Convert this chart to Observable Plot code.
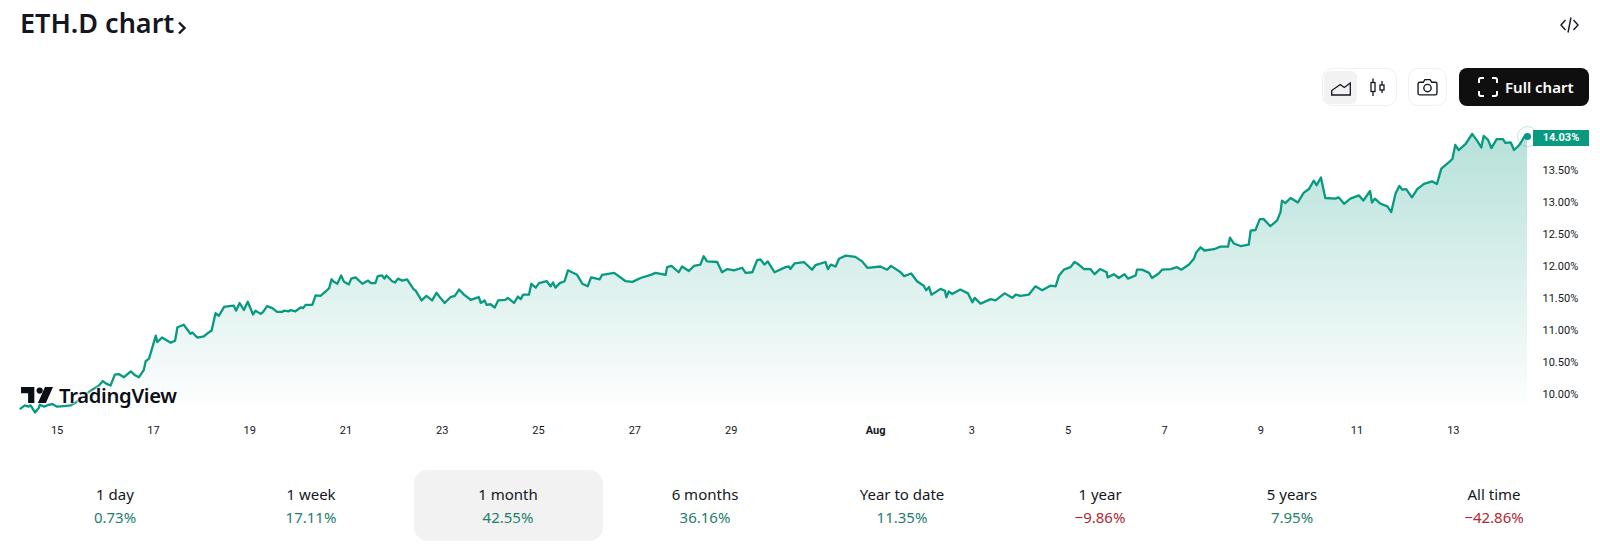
<!DOCTYPE html>
<html><head><meta charset="utf-8">
<script src="https://cdn.jsdelivr.net/npm/d3@7"></script>
<script src="https://cdn.jsdelivr.net/npm/@observablehq/plot@0.6"></script>
<style>
html,body{margin:0;padding:0;background:#fff;overflow:hidden}
body{width:1600px;height:545px;position:relative;font-family:"Noto Sans",sans-serif;color:#131722}
#chart{position:absolute;left:0;top:0}
.abs{position:absolute}
.title{left:20px;top:5px;font-size:27px;font-weight:600;line-height:36px;white-space:nowrap}
.box{border:1px solid #f0f0f0;border-radius:10px;box-sizing:border-box;background:#fff}
.full{left:1459px;top:68px;width:130px;height:38px;background:#0f0f0f;border-radius:8px;color:#fff;font-size:15px;font-weight:600;line-height:38px;padding-left:46px;box-sizing:border-box}
.badge{left:1533px;top:130px;width:56px;height:16px;background:#089981;color:#fff;font:bold 11px Roboto,sans-serif;line-height:16px;text-align:center}
.logo{left:21px;top:382px;height:26px;font-size:20.2px;font-weight:600;line-height:26px;color:#0b0e14;letter-spacing:-.3px;text-shadow:0 0 3px #fff,0 0 3px #fff,0 0 3px #fff}
.card{left:414px;top:470px;width:189px;height:71px;background:#f2f2f2;border-radius:14px}
.per{transform:translateX(-50%);text-align:center;white-space:nowrap;font-size:15px;line-height:20px}
</style></head><body>
<div id="chart"></div>
<script>
const startUTC = Date.UTC(2025, 6, 15);
const days = [-0.76,-0.67,-0.60,-0.55,-0.46,-0.38,-0.36,-0.27,-0.17,-0.10,0.00,0.14,0.28,0.38,0.52,0.70,0.87,0.95,1.02,1.11,1.20,1.28,1.39,1.53,1.62,1.70,1.80,1.84,1.91,1.98,2.05,2.08,2.18,2.36,2.45,2.50,2.63,2.77,2.81,2.91,3.05,3.15,3.21,3.29,3.36,3.47,3.57,3.67,3.72,3.79,3.88,3.96,4.07,4.12,
4.23,4.28,4.36,4.47,4.57,4.68,4.71,4.81,4.85,4.95,5.06,5.11,5.16,5.30,5.37,5.47,5.58,5.65,5.70,5.75,5.82,5.90,5.96,6.06,6.11,6.20,6.34,6.46,6.52,6.61,6.66,6.75,6.80,6.84,6.96,7.02,7.08,7.17,7.27,7.32,7.40,7.45,7.57,7.67,7.79,7.88,7.96,8.05,8.17,8.26,8.35,8.45,8.59,8.76,8.80,8.88,8.92,9.00,9.09,9.16,9.31,
9.36,9.49,9.57,9.63,9.68,9.80,9.85,9.94,10.01,10.17,10.25,10.30,10.35,10.44,10.54,10.61,10.80,10.91,11.02,11.09,11.27,11.32,11.57,11.81,11.95,12.12,12.33,12.43,12.64,12.67,12.76,12.91,12.98,13.12,13.23,13.36,13.43,13.50,13.71,13.81,13.92,14.06,14.23,14.30,14.44,14.54,14.61,
14.69,14.76,14.90,15.13,15.20,15.23,15.32,15.51,15.68,15.75,15.96,16.01,16.07,16.17,16.24,16.38,16.58,16.72,16.83,17.10,17.24,17.32,17.52,17.59,17.74,17.86,18.00,18.05,18.11,18.16,18.35,18.44,18.47,18.52,18.59,18.76,18.92,19.01,19.06,19.18,19.39,19.49,19.68,19.84,19.91,20.01,
20.18,20.32,20.46,20.63,20.74,20.81,20.91,21.05,21.13,21.22,21.33,21.46,21.55,21.66,21.80,21.82,21.95,22.05,22.17,22.24,22.40,22.43,22.54,22.68,22.74,22.88,22.95,23.13,23.26,23.35,23.51,23.61,23.66,23.75,23.83,24.03,24.16,24.32,24.36,24.44,24.58,24.75,24.79,24.89,24.98,25.06,25.20,25.34,25.41,
25.44,25.51,25.62,25.77,25.89,26.00,26.10,26.16,26.25,26.34,26.55,26.62,26.73,26.86,27.04,27.13,27.27,27.31,27.37,27.49,27.63,27.71,27.80,27.88,27.94,28.02,28.14,28.25,28.39,28.56,28.66,28.75,28.91,28.98,29.04,29.11,29.25,29.39,29.49,29.58,29.63,29.72,29.79,29.90,30.03,30.08,30.19,30.26,30.36,30.43,30.50,30.54];
const dominance = [9.78,9.83,9.81,9.83,9.72,9.79,9.84,9.81,9.84,9.85,9.81,9.82,9.83,9.87,9.96,10.06,10.14,10.21,10.17,10.14,10.31,10.32,10.27,10.36,10.30,10.27,10.38,10.52,10.56,10.74,10.92,10.82,10.89,10.81,10.84,11.05,11.09,10.95,10.97,10.89,10.91,10.97,11.00,11.27,11.23,11.37,11.38,11.39,11.31,11.43,11.32,11.45,11.25,11.31,
11.26,11.29,11.38,11.35,11.29,11.29,11.31,11.30,11.32,11.30,11.36,11.35,11.40,11.40,11.55,11.54,11.61,11.66,11.80,11.76,11.73,11.86,11.76,11.72,11.81,11.83,11.73,11.78,11.74,11.74,11.85,11.86,11.81,11.86,11.77,11.75,11.81,11.78,11.80,11.74,11.65,11.62,11.47,11.54,11.47,11.59,11.51,11.43,11.52,11.54,11.64,11.56,11.48,11.52,11.43,11.47,11.40,11.41,11.36,11.47,11.48,
11.51,11.43,11.53,11.49,11.56,11.56,11.73,11.67,11.74,11.77,11.69,11.75,11.67,11.74,11.77,11.94,11.87,11.73,11.69,11.83,11.80,11.87,11.90,11.77,11.76,11.82,11.87,11.90,11.87,11.99,12.01,11.91,12.00,11.93,12.01,12.03,12.16,12.08,12.07,11.91,11.96,11.94,11.98,11.90,11.91,12.10,12.11,
12.03,12.08,11.91,11.99,12.00,11.96,12.05,12.07,11.95,12.02,12.07,11.96,12.03,12.00,12.12,12.17,12.15,12.08,11.98,12.00,11.95,12.01,11.91,11.85,11.89,11.77,11.70,11.63,11.68,11.56,11.65,11.62,11.52,11.61,11.57,11.64,11.58,11.44,11.51,11.42,11.49,11.47,11.58,11.51,11.56,11.54,
11.56,11.69,11.63,11.70,11.69,11.86,11.95,11.99,12.07,12.03,11.96,11.96,11.88,11.96,11.91,11.83,11.88,11.82,11.88,11.81,11.86,11.95,11.95,11.90,11.82,11.89,11.95,11.96,11.99,11.95,12.03,12.12,12.22,12.30,12.25,12.27,12.31,12.31,12.45,12.36,12.32,12.34,12.56,12.57,12.74,12.74,12.63,12.72,12.85,
13.03,12.99,13.07,13.00,13.15,13.21,13.34,13.27,13.39,13.07,13.06,13.08,12.98,13.06,13.11,13.03,13.18,13.00,13.06,12.98,12.94,12.85,13.14,13.26,13.20,13.21,13.08,13.21,13.29,13.33,13.29,13.53,13.63,13.68,13.90,13.82,13.91,14.07,13.97,13.86,14.04,13.98,13.85,13.99,13.99,13.93,13.94,13.82,13.89,13.97,14.06,14.03];
const lastPrice = 14.03;
const yTicks = [10,10.5,11,11.5,12,12.5,13,13.5];
const xTickDays = [0,2,4,6,8,10,12,14,17,19,21,23,25,27,29];
const xTickLabels = ["15","17","19","21","23","25","27","29","Aug","3","5","7","9","11","13"];
const periods = ["1 day","1 week","1 month","6 months","Year to date","1 year","5 years","All time"];
const changes = ["0.73%","17.11%","42.55%","36.16%","11.35%","\u22129.86%","7.95%","\u221242.86%"];
const periodCenters = [115,311,508,705,902,1100,1292,1494];

const toDate = d => new Date(startUTC + d * 864e5);
const rows = days.map((d,i)=>({date:toDate(d),value:dominance[i]}));
const yMin = 9.672, yMax = 14.281;
const labelOf = new Map(xTickDays.map((d,i)=>[+toDate(d),xTickLabels[i]]));

const plot = Plot.plot({
  width:1600,height:545,marginLeft:20,marginRight:73,marginTop:120,marginBottom:130,
  style:{background:"transparent",fontFamily:"Roboto,sans-serif",fontSize:"11px",color:"#131722"},
  x:{type:"utc",domain:[toDate(-0.76),toDate(30.54)]},
  y:{domain:[yMin,yMax]},
  marks:[
    ()=>{const defs=d3.create("svg:defs");
      const g=defs.append("linearGradient").attr("id","ethGrad").attr("gradientUnits","userSpaceOnUse")
        .attr("x1",0).attr("x2",0).attr("y1",130).attr("y2",412);
      g.append("stop").attr("offset","0").attr("stop-color","#089981").attr("stop-opacity",0.3);
      g.append("stop").attr("offset","1").attr("stop-color","#089981").attr("stop-opacity",0);
      return defs.node();},
    Plot.areaY(rows,{x:"date",y1:()=>yMin,y2:"value",fill:"url(#ethGrad)"}),
    Plot.lineY(rows,{x:"date",y:"value",stroke:"#089981",strokeWidth:2.3}),
    Plot.dot(rows.slice(-1),{x:"date",y:()=>lastPrice,r:10,fill:"none",stroke:"#089981",strokeOpacity:.25,strokeWidth:1}),
    Plot.dot(rows.slice(-1),{x:"date",y:()=>lastPrice,r:3.500,fill:"#089981"}),
    Plot.axisX({ticks:xTickDays.map(toDate),tickFormat:d=>labelOf.get(+d),tickSize:0,tickPadding:11,label:null}),
    Plot.axisY({anchor:"right",ticks:yTicks,tickFormat:d=>d.toFixed(2)+"%",tickSize:0,tickPadding:15,label:null})
  ]
});
d3.select(plot).selectAll("text").filter(function(){return this.textContent==="Aug"}).attr("font-weight","bold");
document.getElementById("chart").append(plot);

const html = (cls,style,inner)=>{const e=document.createElement("div");e.className="abs "+cls;e.style.cssText=style||"";e.innerHTML=inner||"";document.body.append(e);return e;};
html("title","",'ETH.D chart');
html("","left:177px;top:18px",'<svg width="10" height="14" viewBox="0 0 10 14"><path d="M2 1.500l5.500 5.500-5.500 5.500" fill="none" stroke="#131722" stroke-width="2.400"/></svg>');
html("","left:1559px;top:15px",'<svg width="21" height="20" viewBox="0 0 20 20" fill="none" stroke="#131722" stroke-width="1.400"><path d="M6 5L1.500 10 6 15M14 5l4.500 5L14 15M11.500 2.500L8.500 17.500"/></svg>');
html("box","left:1322px;top:68px;width:75px;height:38px");
html("","left:1324px;top:71px;width:33px;height:33px;background:#f2f2f2;border-radius:6px");
html("","left:1331px;top:78px",'<svg width="20" height="20" viewBox="0 0 20 20" fill="none" stroke="#131722" stroke-width="1.300"><path d="M0.700 17h18.600V5l-6 4.500-4-3-8.600 6z"/></svg>');
html("","left:1368px;top:77px",'<svg width="20" height="20" viewBox="0 0 20 20" fill="none" stroke="#131722" stroke-width="1.300"><rect x="3" y="5.500" width="4" height="9"/><path d="M5 1.500v4M5 14.500v4.500M14 4v4M14 13v3"/><rect x="12" y="8" width="4" height="5"/></svg>');
html("box","left:1408px;top:68px;width:39px;height:38px");
html("","left:1417px;top:77px",'<svg width="21" height="21" viewBox="0 0 20 20" fill="none" stroke="#131722" stroke-width="1.300"><path d="M1 6.500a1.500 1.500 0 0 1 1.500-1.500H6l1.500-2.500h5L14 5h3.500A1.500 1.500 0 0 1 19 6.500v9a1.500 1.500 0 0 1-1.500 1.500h-15A1.500 1.500 0 0 1 1 15.500z"/><circle cx="10" cy="10.500" r="3.500"/></svg>');
html("full","","Full chart");
html("","left:1477px;top:76px",'<svg width="22" height="22" viewBox="0 0 22 22" fill="none" stroke="#fff" stroke-width="2"><path d="M2 7V4a2 2 0 0 1 2-2h3M15 2h3a2 2 0 0 1 2 2v3M20 15v3a2 2 0 0 1-2 2h-3M7 20H4a2 2 0 0 1-2-2v-3"/></svg>');
html("badge","","14.03%");
html("logo","",'<svg width="32" height="16" viewBox="0 0 36 18" style="position:absolute;left:0;top:5px"><path d="M0 0h15v18H8V7H0z M27 0h9l-8 18h-9z" fill="#0b0e14"/><circle cx="21" cy="4" r="3.500" fill="#0b0e14"/></svg><span style="margin-left:38px">TradingView</span>');
html("card");
periods.forEach((p,i)=>{
  html("per",`left:${periodCenters[i]}px;top:484px;color:#131722`,p);
  html("per",`left:${periodCenters[i]}px;top:507px;color:${changes[i].startsWith("\u2212")?"#b22833":"#22806d"}`,changes[i]);
});
</script>
</body></html>
